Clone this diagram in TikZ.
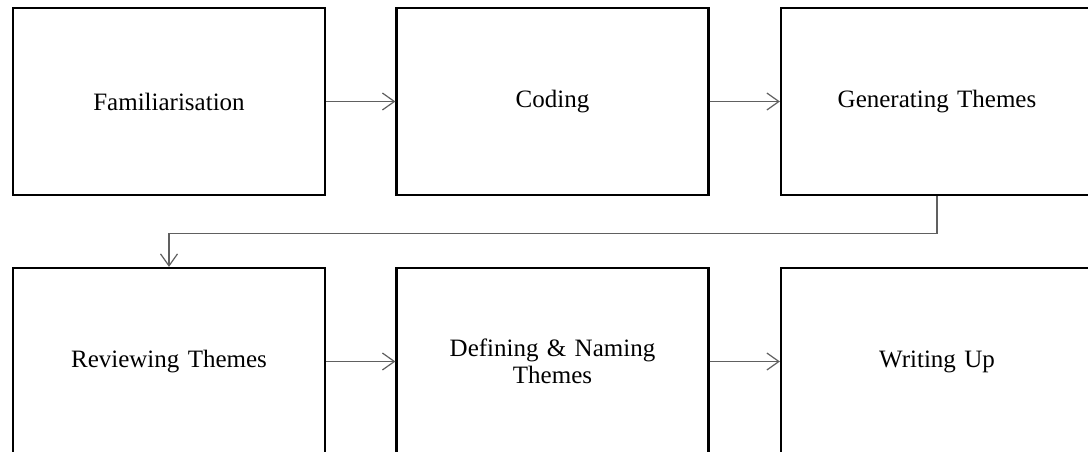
\documentclass[tikz,border=0pt]{standalone}
\usepackage{fontspec}
\setmainfont{Liberation Serif}
\usetikzlibrary{arrows.meta}
\definecolor{linegray}{HTML}{606060}
\tikzset{
  stage/.style={draw=black, line width=2.2pt, rectangle, minimum width=312pt, minimum height=187pt,
    align=center, text width=250pt, font=\fontsize{25}{27.5}\selectfont, inner sep=0pt},
  flow/.style={draw=linegray, line width=1.2pt, -{Straight Barb[length=12pt,width=17pt,line width=1.2pt]}}
}
\begin{document}
\begin{tikzpicture}[x=1pt,y=-1pt]
\clip (0,0) rectangle (1088,452);
\fill[white] (0,0) rectangle (1088,452);
\node[stage] (fam) at (169,101.5) {Familiarisation};
\node[stage] (cod) at (552.5,101.5) {Coding};
\node[stage] (gen) at (937,101.5) {Generating Themes};
\node[stage] (rev) at (169,361.5) {Reviewing Themes};
\node[stage] (def) at (552.5,361.5) {Defining \& Naming\\Themes};
\node[stage] (wri) at (937,361.5) {Writing Up};
\draw[flow] (fam.east) -- (cod.west);
\draw[flow] (cod.east) -- (gen.west);
\draw[flow] (gen.south) -- ++(0,37) -| (rev.north);
\draw[flow] (rev.east) -- (def.west);
\draw[flow] (def.east) -- (wri.west);
\end{tikzpicture}
\end{document}
